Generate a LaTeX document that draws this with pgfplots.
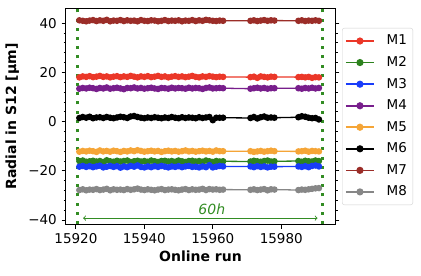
\documentclass[border=0pt]{standalone}
\usepackage{pgfplots}
\pgfplotsset{compat=1.18}
\usepackage{pgfplotstable}
\usepackage{fontspec}
\setmainfont{DejaVu Sans}
\definecolor{cM1}{RGB}{235,55,40}
\definecolor{cM2}{RGB}{45,130,30}
\definecolor{cM3}{RGB}{25,60,250}
\definecolor{cM4}{RGB}{120,30,140}
\definecolor{cM5}{RGB}{245,165,55}
\definecolor{cM6}{RGB}{0,0,0}
\definecolor{cM7}{RGB}{155,45,40}
\definecolor{cM8}{RGB}{135,135,135}
\definecolor{cG}{RGB}{50,140,35}
\pgfplotstableread{
x m1 m2 m3 m4 m5 m6 m7 m8
15921 18.0 -16.0 -18.3 13.4 -12.2 1.5 41.2 -27.8
15922 18.4 -15.8 -18.0 13.7 -11.9 1.9 41.0 -27.5
15923 18.2 -16.3 -18.4 13.5 -12.1 1.6 40.8 -27.9
15924 18.5 -16.1 -18.1 13.8 -11.8 2.0 41.1 -27.6
15925 18.1 -15.9 -18.5 13.6 -12.0 1.4 41.3 -27.7
15926 18.3 -16.2 -18.2 13.3 -12.3 1.7 40.9 -27.4
15927 18.6 -16.0 -17.9 13.7 -11.7 1.8 41.2 -27.8
15928 18.2 -16.4 -18.6 13.5 -12.1 1.5 41.0 -27.6
15929 18.4 -15.7 -18.3 13.9 -11.9 1.9 41.4 -27.3
15930 18.0 -16.1 -18.0 13.4 -12.2 1.6 40.8 -27.9
15931 18.3 -16.3 -18.4 13.6 -11.8 1.4 41.1 -27.5
15932 18.5 -15.9 -18.1 13.8 -12.0 1.7 41.0 -27.7
15933 18.1 -16.2 -18.7 13.5 -12.3 2.0 41.3 -27.6
15934 18.4 -16.0 -18.2 13.2 -11.9 1.8 40.9 -27.8
15935 18.2 -15.8 -18.5 13.7 -12.1 1.5 41.2 -27.4
15936 18.6 -16.4 -18.0 13.6 -11.7 2.1 41.0 -27.7
15937 18.3 -16.1 -18.3 13.9 -12.0 2.3 41.1 -27.5
15938 18.0 -15.9 -17.8 13.5 -11.6 1.9 40.8 -27.2
15939 18.4 -16.2 -18.4 13.7 -11.9 1.6 41.3 -27.6
15940 18.2 -16.0 -18.6 13.4 -12.2 1.4 41.0 -27.8
15941 18.5 -16.3 -18.2 13.6 -12.0 1.7 40.9 -27.5
15942 18.1 -15.8 -18.5 13.8 -11.8 1.5 41.2 -27.7
15943 18.3 -16.1 -18.1 13.5 -12.1 1.8 41.1 -27.9
15944 18.6 -16.4 -18.4 13.3 -11.9 1.6 40.8 -27.6
15945 18.2 -16.0 -18.0 13.7 -12.3 1.4 41.0 -27.4
15946 18.4 -15.9 -18.3 13.6 -12.0 1.7 41.3 -27.8
15947 18.0 -16.2 -18.6 13.4 -11.8 1.5 40.9 -27.6
15948 18.3 -16.0 -18.2 13.8 -12.1 1.9 41.1 -27.5
15949 18.5 -16.3 -18.4 13.5 -11.9 1.6 41.0 -27.7
15950 18.2 -15.8 -18.1 13.7 -12.2 1.4 41.2 -27.9
15951 18.4 -16.1 -18.5 13.6 -12.0 1.8 40.8 -27.6
15952 18.1 -16.4 -18.2 13.4 -11.7 1.5 41.1 -27.4
15953 18.3 -16.0 -18.0 13.8 -12.1 1.7 41.0 -27.8
15954 18.6 -15.9 -18.4 13.5 -11.9 1.6 41.3 -27.5
15955 18.2 -16.2 -18.3 13.7 -12.2 1.4 40.9 -27.7
15956 18.0 -16.0 -18.6 13.6 -12.0 1.8 41.2 -27.6
15957 18.4 -16.3 -18.2 13.3 -11.8 1.5 41.0 -27.3
15958 18.2 -15.8 -18.5 13.7 -12.1 1.7 41.4 -27.8
15959 18.5 -16.1 -17.7 13.9 -11.9 1.9 41.2 -27.4
15960 18.3 -16.4 -18.6 13.5 -12.2 0.6 41.0 -27.6
15961 18.1 -16.0 -18.3 13.6 -11.7 1.6 40.9 -27.5
15962 18.3 -16.2 -18.0 13.7 -12.0 1.6 41.1 -27.7
15963 18.2 -16.1 -18.2 13.6 -12.0 1.6 41.0 -27.6
15971 18.1 -16.2 -18.2 13.4 -12.0 1.5 41.0 -27.7
15972 18.3 -15.9 -18.5 13.6 -12.3 1.9 41.2 -27.5
15973 17.8 -16.1 -18.1 13.8 -12.1 1.3 40.9 -27.8
15974 18.4 -16.3 -18.4 13.5 -11.9 1.8 41.1 -27.6
15975 18.2 -16.0 -18.2 13.7 -12.2 2.1 41.3 -27.4
15976 18.0 -15.8 -18.6 13.4 -12.0 1.6 41.0 -27.9
15977 18.3 -16.2 -18.3 13.6 -11.8 1.7 41.2 -27.5
15978 18.2 -16.1 -18.3 13.6 -12.0 1.6 41.1 -27.6
15985 18.1 -16.0 -18.2 13.6 -12.1 1.8 41.0 -27.8
15986 18.2 -16.3 -18.4 13.4 -12.0 2.2 41.2 -27.6
15987 18.0 -15.9 -18.1 13.7 -11.8 2.0 40.9 -27.7
15988 18.2 -16.1 -18.5 13.5 -12.2 1.6 41.1 -27.5
15989 17.8 -16.2 -18.0 13.8 -11.9 1.4 41.0 -27.3
15990 18.1 -15.8 -17.8 13.5 -12.0 1.5 41.2 -27.1
15991 18.0 -16.0 -18.2 13.7 -12.1 0.9 41.0 -27.0
}\data
\begin{document}
\fontsize{13.5}{16}\selectfont
\begin{tikzpicture}
\begin{axis}[
  scale only axis, width=269pt, height=215pt,
  xmin=15917.1, xmax=15995.7, ymin=-41.6, ymax=45.8,
  scaled x ticks=false,
  xtick={15920,15940,15960,15980},
  xticklabels={15920,15940,15960,15980},
  ytick={-40,-20,0,20,40},
  yticklabels={−40,−20,0,20,40},
  minor y tick num=4,
  tick align=outside,
  xtick pos=lower, ytick pos=both,
  major tick length=4.5pt, minor tick length=2.5pt,
  every tick/.style={black, line width=0.9pt},
  axis line style={black, line width=1pt},
  tick label style={font=\fontsize{13.5}{16}\selectfont},
  xlabel={\bfseries Online run},
  ylabel={\bfseries Radial in S12 [μm]},
  label style={font=\fontsize{14}{16}\selectfont},
  xlabel style={yshift=2pt},
  legend style={at={(rel axis cs:1,0.5)}, anchor=west, xshift=7pt,
    draw=black!18, rounded corners=2.5pt, fill=white,
    font=\fontsize{13.5}{15}\selectfont, row sep=3.6pt,
    nodes={inner sep=3pt}, inner xsep=3pt, inner ysep=4pt,
    /tikz/every odd column/.append style={column sep=9pt}},
  legend cell align=left,
  legend image code/.code={\draw[mark repeat=2,mark phase=2, line width=1.5pt, mark size=2.8pt] plot coordinates {(0pt,0pt) (14pt,0pt) (28pt,0pt)};},
  every axis plot/.append style={line width=1.3pt, mark=*, mark size=2.6pt},
]
\addplot[color=cM1] table[x=x,y=m1]{\data};
\addplot[color=cM2] table[x=x,y=m2]{\data};
\addplot[color=cM3] table[x=x,y=m3]{\data};
\addplot[color=cM4] table[x=x,y=m4]{\data};
\addplot[color=cM5] table[x=x,y=m5]{\data};
\addplot[color=cM6] table[x=x,y=m6]{\data};
\addplot[color=cM7] table[x=x,y=m7]{\data};
\addplot[color=cM8] table[x=x,y=m8]{\data};
\legend{M1,M2,M3,M4,M5,M6,M7,M8}
\addplot[forget plot, no marks, cG, line width=3pt, dash pattern=on 3pt off 6.2pt] coordinates {(15920.5,-41.6) (15920.5,45.8)};
\addplot[forget plot, no marks, cG, line width=3pt, dash pattern=on 3pt off 6.2pt] coordinates {(15992.1,-41.6) (15992.1,45.8)};
\addplot[forget plot, no marks, cG, line width=0.9pt, <->, >=to] coordinates {(15922.1,-39.2) (15990.6,-39.2)};
\node[cG, font=\fontsize{14}{16}\selectfont\itshape] at (axis cs:15959.7,-35.8) {60h};
\coordinate (bl) at (rel axis cs:0,0);
\coordinate (tr) at (rel axis cs:1,1);
\end{axis}
\pgfresetboundingbox
\path[use as bounding box] ([xshift=-66pt,yshift=-51pt]bl) rectangle ([xshift=86pt,yshift=9pt]tr);
\end{tikzpicture}
\end{document}
